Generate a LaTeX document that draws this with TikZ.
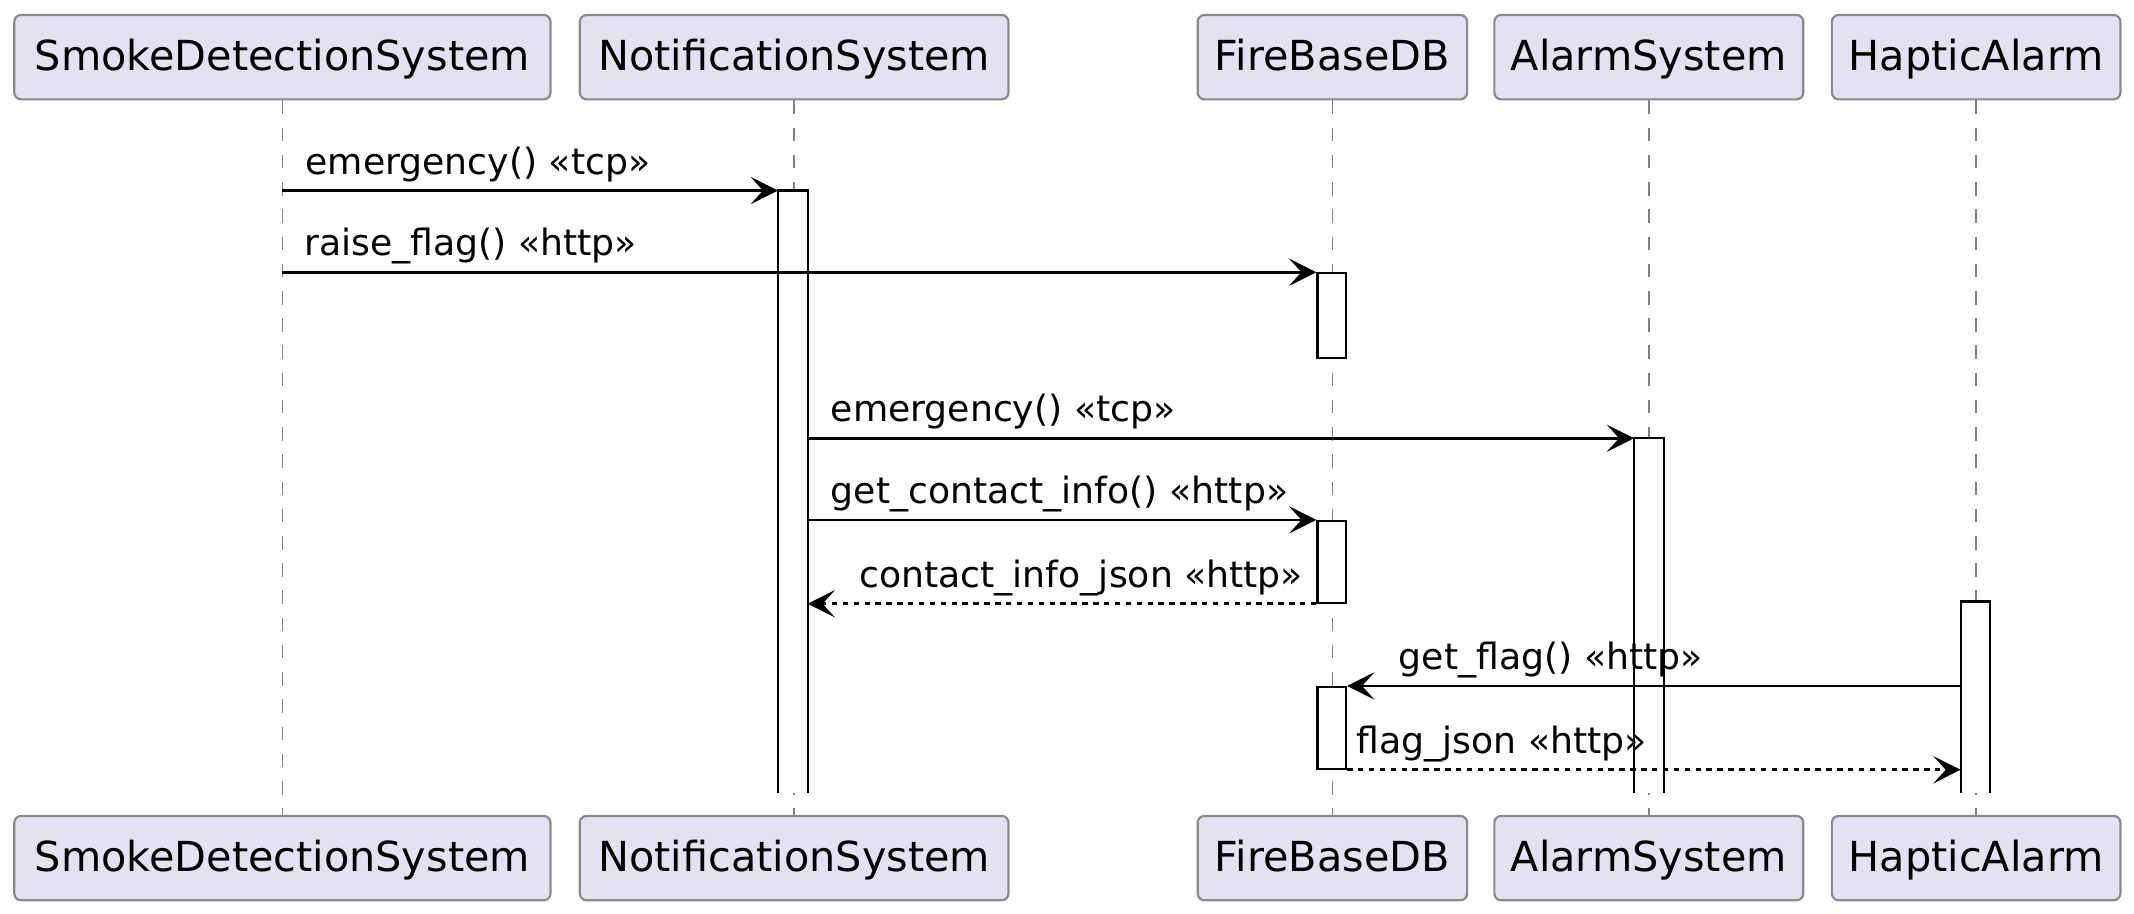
\documentclass[tikz,border=0pt]{standalone}
\usepackage{fontspec}
\setmainfont{DejaVu Sans}
\usepackage{tikz}
\usetikzlibrary{arrows.meta}
\definecolor{partfill}{HTML}{E2E2F0}
\definecolor{partline}{HTML}{8A8A8A}

\begin{document}
\begin{tikzpicture}[x=0.5pt,y=-0.5pt,
  part/.style={draw=partline,fill=partfill,line width=0.8pt,rounded corners=2.5pt,
    minimum height=31pt,inner sep=0pt,text height=12pt,text depth=2pt,
    font=\fontsize{15.2}{18}\selectfont},
  lifeline/.style={draw=black!50,line width=0.5pt,dash pattern=on 5pt off 5pt},
  act/.style={draw=black,fill=white,line width=0.8pt,minimum width=10.5pt,inner sep=0pt,anchor=north},
  actopen/.style={fill=white,minimum width=10.5pt,inner sep=0pt,anchor=north},
  call/.style={line width=1pt,-{Stealth[length=10pt,width=10pt,inset=4.5pt]}},
  reply/.style={call,dash pattern=on 2pt off 2pt},
  msg/.style={font=\fontsize{13.3}{16}\selectfont,anchor=base west,inner sep=0pt,yshift=6pt}]
\useasboundingbox (0,0) rectangle (1568,671);
\node[part,minimum width=197pt] (smoke) at (207.5,42) {SmokeDetectionSystem};
\node[part,minimum width=157.5pt] (notif) at (583.5,42) {NotificationSystem};
\node[part,minimum width=99pt] (fire) at (979,42) {FireBaseDB};
\node[part,minimum width=113.5pt] (alarm) at (1211.5,42) {AlarmSystem};
\node[part,minimum width=106pt] (haptic) at (1452,42) {HapticAlarm};
\node[part,minimum width=197pt] (smokeB) at (207.5,630.5) {SmokeDetectionSystem};
\node[part,minimum width=157.5pt] (notifB) at (583.5,630.5) {NotificationSystem};
\node[part,minimum width=99pt] (fireB) at (979,630.5) {FireBaseDB};
\node[part,minimum width=113.5pt] (alarmB) at (1211.5,630.5) {AlarmSystem};
\node[part,minimum width=106pt] (hapticB) at (1452,630.5) {HapticAlarm};
\draw[lifeline] (smoke) -- (smokeB);
\draw[lifeline] (notif) -- (notifB);
\draw[lifeline] (fire) -- (fireB);
\draw[lifeline] (alarm) -- (alarmB);
\draw[lifeline] (haptic) -- (hapticB);
% activations
\node[actopen,minimum height=221pt] (notifA) at (582.5,140) {};
\draw[line width=0.8pt] (notifA.south west) |- (notifA.north east) -- (notifA.south east);
\node[actopen,minimum height=130pt] (alarmA) at (1211.5,322) {};
\draw[line width=0.8pt] (alarmA.south west) |- (alarmA.north east) -- (alarmA.south east);
\node[actopen,minimum height=70pt] (hapticA) at (1451.5,442) {};
\draw[line width=0.8pt] (hapticA.south west) |- (hapticA.north east) -- (hapticA.south east);
\node[act,minimum height=31pt] (fireA1) at (978.5,200) {};
\node[act,minimum height=30pt] (fireA2) at (978.5,382) {};
\node[act,minimum height=30pt] (fireA3) at (978.5,504) {};
% messages
\draw[call] (smoke.south |- notifA.north) -- (notifA.north west)
  node[msg,pos=0,xshift=8pt] {emergency() «tcp»};
\draw[call] (smoke.south |- fireA1.north) -- (fireA1.north west)
  node[msg,pos=0,xshift=7.5pt] {raise\_flag() «http»};
\draw[call] (notifA.north east |- alarmA.north) -- (alarmA.north west)
  node[msg,pos=0,xshift=8pt] {emergency() «tcp»};
\draw[call] (notifA.north east |- fireA2.north) -- (fireA2.north west)
  node[msg,pos=0,xshift=8pt] {get\_contact\_info() «http»};
\draw[reply] (fireA2.south west) -- (notifA.north east |- fireA2.south)
  node[msg,pos=1,xshift=18.5pt] {contact\_info\_json «http»};
\draw[call] (hapticA.north west |- fireA3.north) -- (fireA3.north east)
  node[msg,pos=1,xshift=18.5pt] {get\_flag() «http»};
\draw[reply] (fireA3.south east) -- (hapticA.north west |- fireA3.south)
  node[msg,pos=0,xshift=3pt] {flag\_json «http»};
\end{tikzpicture}
\end{document}
